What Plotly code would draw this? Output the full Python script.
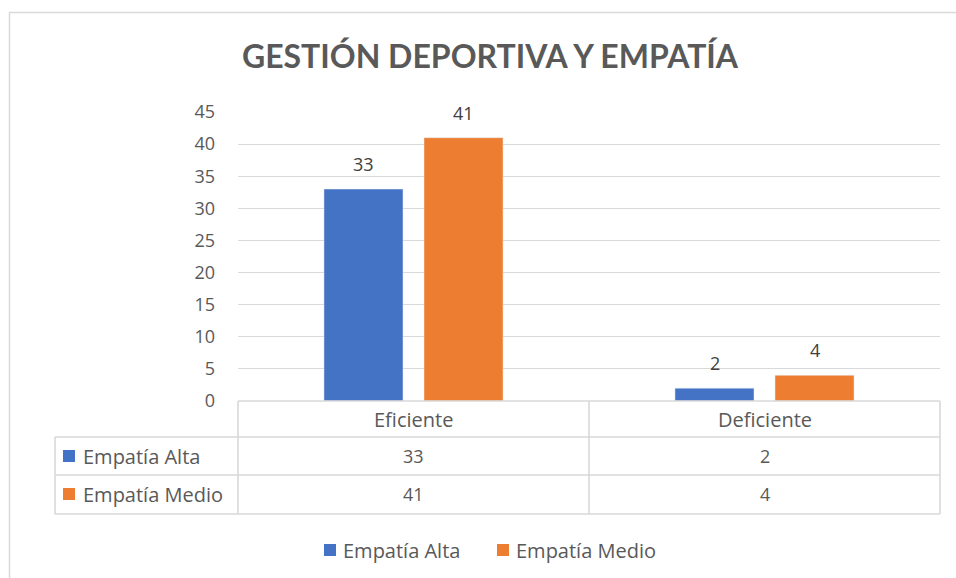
import plotly.graph_objects as go

categories = ["Eficiente", "Deficiente"]
series_names = ["Empatía Alta", "Empatía Medio"]
alta = [33, 2]
medio = [41, 4]
colors = ["#4472C4", "#ED7D31"]

W, H = 956, 578
L, R, T, B = 238, 940, 112, 401  # plot area in px

def px_x(x):
    return (x - L) / (R - L)

def px_y(y):
    return (B - y) / (B - T)

FONT = "Open Sans"
GREY = "#595959"
LINE = "#d9d9d9"
FS = 18    # numbers
FT = 20    # words

fig = go.Figure()
for name, vals, col in zip(series_names, [alta, medio], colors):
    fig.add_trace(go.Bar(x=categories, y=vals, name=name, marker_color=col))

fig.update_layout(
    width=W, height=H,
    margin=dict(l=L, r=W - R, t=T, b=H - B),
    paper_bgcolor="white", plot_bgcolor="white",
    barmode="group", bargap=0.43, bargroupgap=0.21,
    font=dict(family=FONT, color=GREY, size=FS),
    title=dict(text="<b>GESTIÓN DEPORTIVA Y EMPATÍA</b>", x=490 / W, xanchor="center",
               y=1 - 57 / H, yanchor="middle",
               font=dict(size=32, color=GREY, family="Lato")),
    showlegend=False,
    yaxis=dict(range=[0, 45], dtick=5, showgrid=True, gridcolor=LINE, gridwidth=1.3,
               zeroline=False, showline=False, ticks="", ticklabelstandoff=22,
               tickfont=dict(size=FS, color=GREY)),
    xaxis=dict(showticklabels=False, showline=False, ticks=""),
)

shapes = []
annotations = []

# data labels above bars
for vals, shift in zip([alta, medio], [-50, 50]):
    for cat, v in zip(categories, vals):
        annotations.append(dict(x=cat, y=v, xref="x", yref="y", text=str(v), showarrow=False,
                                xshift=shift, yshift=25, xanchor="center", yanchor="middle",
                                font=dict(size=FS, color="#404040")))

# outer chart border
shapes.append(dict(type="rect", xref="paper", yref="paper",
                   x0=px_x(9.5), x1=px_x(990), y0=px_y(12.5), y1=px_y(600),
                   line=dict(color=LINE, width=1.5), layer="below"))

# data table lines
lw = 1.6
def hline(y, x0, x1):
    shapes.append(dict(type="line", xref="paper", yref="paper",
                       x0=px_x(x0), x1=px_x(x1), y0=px_y(y), y1=px_y(y),
                       line=dict(color=LINE, width=lw)))
def vline(x, y0, y1):
    shapes.append(dict(type="line", xref="paper", yref="paper",
                       x0=px_x(x), x1=px_x(x), y0=px_y(y0), y1=px_y(y1),
                       line=dict(color=LINE, width=lw)))

hline(401, 238, 940)
hline(437, 55, 940)
hline(475, 55, 940)
hline(514, 55, 940)
vline(55, 437, 514)
vline(238, 401, 514)
vline(589, 401, 514)
vline(940, 401, 514)

col_centers = [413.5, 764.5]
for cx, cat in zip(col_centers, categories):
    annotations.append(dict(x=px_x(cx), y=px_y(419), xref="paper", yref="paper",
                            text=cat, showarrow=False, xanchor="center", yanchor="middle",
                            font=dict(size=FT, color=GREY)))
row_ys = [456, 494]
for ry, name, vals, col in zip(row_ys, series_names, [alta, medio], colors):
    shapes.append(dict(type="rect", xref="paper", yref="paper",
                       x0=px_x(63), x1=px_x(75), y0=px_y(ry - 6), y1=px_y(ry + 6),
                       fillcolor=col, line=dict(width=0)))
    annotations.append(dict(x=px_x(81), y=px_y(ry), xref="paper", yref="paper",
                            text=name, showarrow=False, xanchor="left", yanchor="middle",
                            font=dict(size=FT, color=GREY)))
    for cx, v in zip(col_centers, vals):
        annotations.append(dict(x=px_x(cx), y=px_y(ry), xref="paper", yref="paper",
                                text=str(v), showarrow=False, xanchor="center", yanchor="middle",
                                font=dict(size=FS, color=GREY)))

# legend at the bottom
leg_y = 550
for x0, name, col in zip([324, 497], series_names, colors):
    shapes.append(dict(type="rect", xref="paper", yref="paper",
                       x0=px_x(x0), x1=px_x(x0 + 12), y0=px_y(leg_y - 6), y1=px_y(leg_y + 6),
                       fillcolor=col, line=dict(width=0)))
    annotations.append(dict(x=px_x(x0 + 17), y=px_y(leg_y), xref="paper", yref="paper",
                            text=name, showarrow=False, xanchor="left", yanchor="middle",
                            font=dict(size=FT, color=GREY)))

fig.update_layout(shapes=shapes, annotations=annotations)
fig.write_html("out.html", config={"displayModeBar": False},
               post_script="document.body.style.margin='0px';")
